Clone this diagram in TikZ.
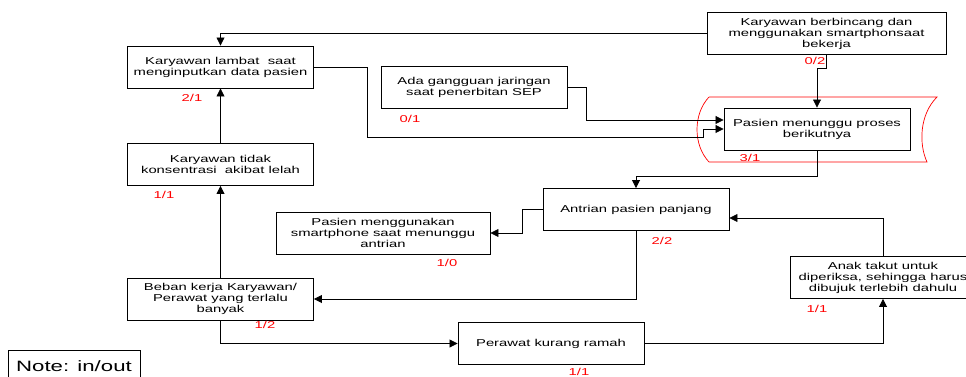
\documentclass[tikz,border=0pt]{standalone}
\usepackage{fontspec}
\setmainfont{Liberation Sans}[FakeStretch=1.48]
\usetikzlibrary{arrows.meta}

\begin{document}
\begin{tikzpicture}[x=1pt, y=-1pt,
  box/.style={draw, line width=0.9pt, fill=white, inner sep=0pt, align=center,
    minimum width=186pt, minimum height=42pt, font=\fontsize{10}{11}\selectfont},
  inout/.style={text=red, inner sep=0pt, font=\fontsize{10}{11}\selectfont},
  arr/.style={line width=0.8pt, -{Triangle[length=8pt, width=8pt]}}]
  \useasboundingbox (0,0) rectangle (966,377);
  \clip (0,0) rectangle (966,377);
  % red stored data shape
  \draw[red, line width=0.7pt] (709,97) -- (937,97)
    .. controls (919,115) and (919,145) .. (927,162) -- (709,162)
    .. controls (693,145) and (693,114) .. (709,97);
  \draw (220.5,67) node[box] (lambat) {Karyawan lambat\ \ saat\\menginputkan data pasien};
  \draw (220.5,164.5) node[box] (tidak) {Karyawan tidak\\konsentrasi\ \ akibat lelah};
  \draw (220.5,299) node[box] (beban) {Beban kerja Karyawan/\\Perawat yang terlalu\\banyak};
  \draw (474,87.5) node[box] (gangguan) {Ada gangguan jaringan\\saat penerbitan SEP};
  \draw (826.5,33.5) node[box, minimum width=239pt] (berbincang) {Karyawan berbincang dan\\menggunakan smartphonsaat\\bekerja};
  \draw (817,129) node[box] (menunggu) {Pasien menunggu proses\\berikutnya};
  \draw (636,209.5) node[box] (antrian) {Antrian pasien panjang};
  \draw (383,233) node[box, minimum width=214pt] (hp) {Pasien menggunakan\\smartphone saat menunggu\\antrian};
  \draw (883,277.5) node[box] (anak) {Anak takut untuk\\diperiksa, sehingga harus\\dibujuk terlebih dahulu};
  \draw (551,343.5) node[box] (ramah) {Perawat kurang ramah};
  \draw (74,366) node[box, minimum width=132pt, minimum height=32pt,
    font=\fontsize{15}{17}\selectfont] (note) {Note: in/out};
  % in/out labels
  \node[inout] (l1) at (192,98) {2/1};
  \node[inout] (l2) at (164,195) {1/1};
  \node[inout] (l3) at (265,325) {1/2};
  \node[inout] (l4) at (410,119) {0/1};
  \node[inout] (l5) at (815,61) {0/2};
  \node[inout] (l6) at (750,158) {3/1};
  \node[inout] (l7) at (662,241) {2/2};
  \node[inout] (l8) at (447,263) {1/0};
  \node[inout] (l9) at (817,309) {1/1};
  \node[inout] (l10) at (579,372) {1/1};
  % connectors
  \draw[arr] (berbincang.west) -| (lambat.north);
  \draw[arr] (berbincang.south) -- ++(0,13) -| (menunggu.north);
  \draw[arr] (lambat.east) -- ++(53,0) |- (703,137) |- (menunggu.west);
  \draw[arr] (gangguan.east) -- ++(19,0) |- ([yshift=9pt]menunggu.west);
  \draw[arr] (menunggu.south) -- ++(0,26) -| (antrian.north);
  \draw[arr] (antrian.west) -- ++(-20,0) |- (hp.east);
  \draw[arr] (antrian.south) |- (beban.east);
  \draw[arr] (anak.north) |- ([yshift=-8.5pt]antrian.east);
  \draw[arr] (ramah.east) -| (anak.south);
  \draw[arr] (beban.south) |- (ramah.west);
  \draw[arr] (beban) -- (tidak);
  \draw[arr] (tidak) -- (lambat);
\end{tikzpicture}
\end{document}
